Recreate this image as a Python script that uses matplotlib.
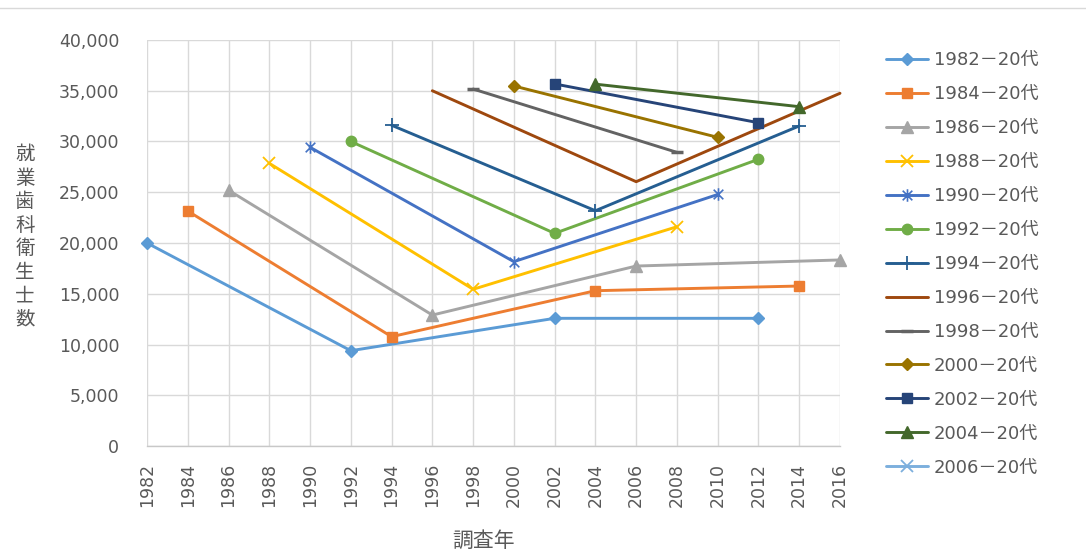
import matplotlib
matplotlib.use("Agg")
import matplotlib.pyplot as plt
import numpy as np
from matplotlib.path import Path
from matplotlib.lines import Line2D

plt.rcParams['font.family'] = ['DejaVu Sans', 'Noto Sans CJK JP']

# Survey years on the category axis
years = [1982, 1984, 1986, 1988, 1990, 1992, 1994, 1996, 1998,
         2000, 2002, 2004, 2006, 2008, 2010, 2012, 2014, 2016]

# Cohorts (people in their 20s in the given year), followed every 10 years
cohort_years = [1982, 1984, 1986, 1988, 1990, 1992, 1994,
                1996, 1998, 2000, 2002, 2004, 2006]
cohort_labels = [f"{y}－20代" for y in cohort_years]

v1982 = [20000, 9390, 12580, 12580]
v1984 = [23150, 10770, 15300, 15760]
v1986 = [25200, 12900, 17730, 18330]
v1988 = [27850, 15440, 21600]
v1990 = [29430, 18160, 24780]
v1992 = [30000, 20950, 28250]
v1994 = [31600, 23180, 31530]
v1996 = [35000, 26040, 34750]
v1998 = [35170, 28930]
v2000 = [35470, 30410]
v2002 = [35670, 31850]
v2004 = [35650, 33430]
v2006 = []
cohort_values = [v1982, v1984, v1986, v1988, v1990, v1992, v1994,
                 v1996, v1998, v2000, v2002, v2004, v2006]

# asterisk marker: an X with a vertical stroke
star = Path([(-1, -1), (1, 1), (-1, 1), (1, -1), (0, -1.3), (0, 1.3)],
            [Path.MOVETO, Path.LINETO, Path.MOVETO, Path.LINETO,
             Path.MOVETO, Path.LINETO])

styles = [
    dict(color='#5B9BD5', marker='D', ms=6.5),
    dict(color='#ED7D31', marker='s', ms=7.5),
    dict(color='#A5A5A5', marker='^', ms=8.5),
    dict(color='#FFC000', marker='x', ms=8, mew=1.3),
    dict(color='#4472C4', marker=star, ms=9, mew=1.2),
    dict(color='#70AD47', marker='o', ms=7.5),
    dict(color='#255E91', marker='+', ms=10, mew=1.3),
    dict(color='#9E480E', marker='None', ms=0),
    dict(color='#636363', marker='_', ms=8, mew=2.5),
    dict(color='#997300', marker='D', ms=6.5),
    dict(color='#264478', marker='s', ms=7.5),
    dict(color='#43682B', marker='^', ms=8.5),
    dict(color='#7CAFDD', marker='x', ms=8, mew=1.3),
]

fig = plt.figure(figsize=(10.86, 5.56), dpi=100)
ax = fig.add_axes([147 / 1086, 1 - 446 / 556, (840 - 147) / 1086, (446 - 40) / 556])

text_color = '#595959'
grid_color = '#D9D9D9'

handles = []
for start, vals, st, lab in zip(cohort_years, cohort_values, styles, cohort_labels):
    xs = [years.index(start + 10 * k) for k in range(len(vals))]
    ln, = ax.plot(xs, vals, color=st['color'], lw=2.1, marker=st['marker'],
                  markersize=st['ms'], markeredgewidth=st.get('mew', 1.0),
                  markerfacecolor=st['color'], markeredgecolor=st['color'],
                  label=lab, solid_capstyle='round', clip_on=False, zorder=3)
    handles.append(ln)

ax.set_xlim(0, len(years) - 1)
ax.set_ylim(0, 40000)
ax.set_xticks(range(len(years)))
ax.set_xticklabels([str(y) for y in years], rotation=90)
ax.set_yticks(np.arange(0, 40001, 5000))
ax.set_yticklabels([f"{v:,}" for v in range(0, 40001, 5000)])
ax.tick_params(axis='both', length=0, labelsize=12.5, colors=text_color)
ax.tick_params(axis='x', pad=12)
ax.tick_params(axis='y', pad=20)

ax.grid(True, color=grid_color, lw=1.0, zorder=0)
ax.set_axisbelow(True)
for side in ['top', 'right', 'left']:
    ax.spines[side].set_visible(False)
ax.spines['bottom'].set_color('#C8C8C8')
ax.spines['bottom'].set_linewidth(1.0)

fig.text(484 / 1086, 1 - 541 / 556, '調査年', ha='center', va='center',
         fontsize=15, color=text_color)
fig.text(25 / 1086, 1 - 237 / 556, '\n'.join('就業歯科衛生士数'), ha='center', va='center',
         fontsize=14, color=text_color, linespacing=1.3)

leg = ax.legend(handles=handles, loc='upper left', bbox_to_anchor=(886 / 1086, 1 - 51 / 556),
                bbox_transform=fig.transFigure, frameon=False, fontsize=13,
                handlelength=2.35, handletextpad=0.3, labelspacing=0.885,
                borderpad=0, borderaxespad=0)
for t in leg.get_texts():
    t.set_color(text_color)

# chart-area top border
fig.add_artist(Line2D([0, 1], [1 - 8 / 556, 1 - 8 / 556], transform=fig.transFigure,
                      color=grid_color, lw=1.0))

fig.savefig('out.png', dpi=100)
